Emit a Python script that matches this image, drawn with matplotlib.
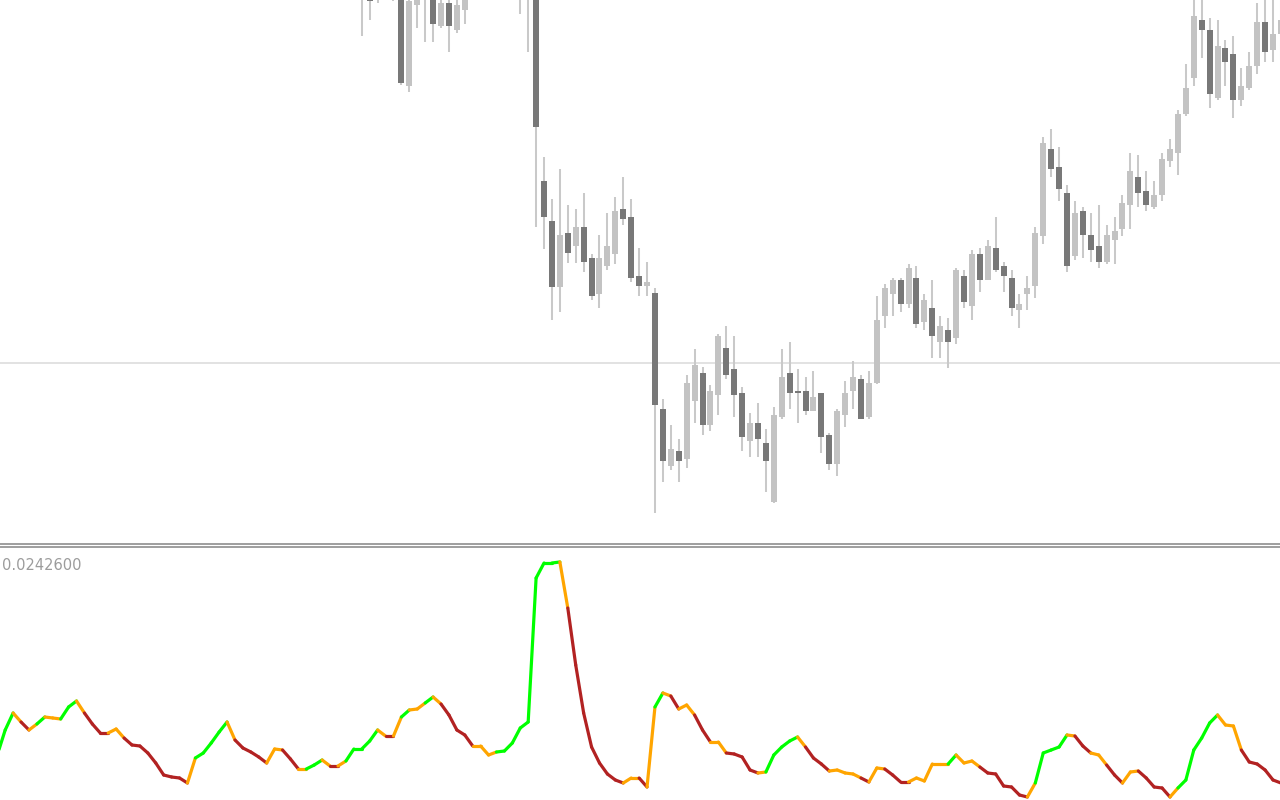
import numpy as np
import matplotlib
matplotlib.use("Agg")
import matplotlib.pyplot as plt
from matplotlib.collections import LineCollection
from matplotlib.lines import Line2D

# ---------------- price data (bars 45 .. 161, price in points) ----------------
first_bar = 45
opens = [1020, 1010, 1010, 1030, 1020, 1015, 914, 995, 1008, 1010,
         974, 997, 970, 990, 1020, 1035, 1050, 1045, 1060, 1050,
         1030, 1020, 1020, 819, 779, 713, 767, 754, 773, 742,
         706, 734, 746, 791, 783, 724, 714, 707, 591, 534,
         549, 541, 599, 627, 575, 605, 652, 631, 607, 559,
         577, 557, 498, 583, 627, 609, 609, 589, 607, 565,
         536, 585, 609, 621, 583, 617, 684, 706, 720, 696,
         722, 678, 692, 658, 670, 662, 724, 694, 746, 720,
         752, 734, 722, 690, 706, 714, 764, 851, 833, 807,
         744, 789, 765, 754, 738, 760, 771, 795, 823, 809,
         793, 805, 839, 847, 886, 922, 980, 970, 902, 952,
         946, 900, 912, 934, 978, 950, 966]
highs = [1060, 1030, 1040, 1050, 1055, 1030, 1005, 1020, 1030, 1020,
         1005, 1005, 1003, 1015, 1050, 1060, 1070, 1075, 1080, 1065,
         1045, 1040, 1030, 843, 801, 831, 795, 791, 807, 746,
         765, 787, 803, 823, 801, 752, 738, 712, 601, 575,
         561, 625, 651, 633, 615, 666, 674, 664, 613, 587,
         597, 571, 593, 651, 658, 631, 623, 629, 607, 567,
         591, 619, 639, 625, 629, 704, 716, 722, 722, 736,
         734, 706, 720, 684, 682, 732, 730, 750, 752, 760,
         783, 738, 730, 706, 724, 773, 863, 871, 853, 815,
         799, 793, 787, 795, 775, 783, 805, 847, 845, 829,
         819, 847, 861, 890, 936, 1005, 1003, 982, 980, 960,
         964, 932, 948, 997, 1005, 1005, 1005]
lows = [964, 980, 997, 1005, 999, 915, 908, 972, 958, 958,
        972, 948, 967, 976, 1005, 1020, 1030, 1030, 1040, 1020,
        986, 948, 773, 751, 680, 688, 737, 737, 728, 700,
        692, 730, 736, 775, 718, 704, 704, 487, 518, 530,
        518, 532, 577, 565, 569, 585, 621, 583, 549, 543,
        543, 508, 497, 581, 591, 577, 585, 589, 547, 530,
        524, 573, 591, 581, 581, 616, 672, 684, 688, 692,
        672, 670, 642, 642, 632, 656, 692, 680, 708, 720,
        728, 708, 684, 672, 690, 702, 756, 823, 799, 728,
        740, 742, 738, 732, 736, 736, 764, 771, 793, 789,
        791, 799, 833, 825, 884, 914, 942, 892, 900, 914,
        882, 894, 910, 926, 938, 938, 940]
closes = [1040, 999, 1025, 1045, 1040, 917, 999, 1010, 1020, 976,
          997, 974, 995, 1005, 1035, 1050, 1045, 1060, 1050, 1040,
          1010, 1010, 873, 783, 713, 765, 747, 773, 738, 704,
          742, 754, 789, 781, 722, 714, 718, 595, 539, 551,
          539, 617, 635, 575, 609, 664, 625, 605, 563, 577,
          561, 539, 585, 623, 607, 607, 589, 603, 563, 536,
          589, 607, 623, 581, 617, 680, 712, 720, 696, 732,
          676, 700, 664, 674, 658, 730, 698, 746, 720, 754,
          730, 724, 692, 696, 712, 767, 857, 831, 811, 734,
          787, 765, 750, 738, 765, 769, 797, 829, 807, 795,
          805, 841, 851, 886, 912, 984, 970, 906, 954, 938,
          900, 914, 934, 978, 948, 966, 980]
level_line = 637

# ---------------- indicator data (bars -1 .. 161) ----------------
ind_first = -1
ind_values = [0.0045, 0.0070, 0.0087, 0.0078, 0.0070, 0.0076, 0.0083, 0.0082, 0.0081, 0.0093, 0.0099,
              0.0087, 0.0076, 0.0067, 0.0067, 0.0071, 0.0062, 0.0055, 0.0054, 0.0047, 0.0037,
              0.0025, 0.0023, 0.0022, 0.0017, 0.0042, 0.0047, 0.0057, 0.0068, 0.0078, 0.0060,
              0.0052, 0.0048, 0.0043, 0.0037, 0.0051, 0.0050, 0.0041, 0.0031, 0.0031, 0.0035,
              0.0040, 0.0034, 0.0034, 0.0039, 0.0051, 0.0051, 0.0059, 0.0070, 0.0064, 0.0064,
              0.0083, 0.0090, 0.0091, 0.0097, 0.0103, 0.0096, 0.0085, 0.0070, 0.0065, 0.0054,
              0.0054, 0.0045, 0.0048, 0.0049, 0.0057, 0.0072, 0.0078, 0.0222, 0.0237, 0.0237,
              0.0238, 0.0192, 0.0135, 0.0087, 0.0053, 0.0037, 0.0026, 0.0020, 0.0017, 0.0022,
              0.0022, 0.0013, 0.0093, 0.0107, 0.0104, 0.0091, 0.0095, 0.0085, 0.0070, 0.0058,
              0.0058, 0.0047, 0.0046, 0.0043, 0.0030, 0.0027, 0.0028, 0.0045, 0.0053, 0.0059,
              0.0063, 0.0053, 0.0042, 0.0036, 0.0029, 0.0030, 0.0027, 0.0026, 0.0022, 0.0018,
              0.0032, 0.0031, 0.0025, 0.0018, 0.0018, 0.0022, 0.0019, 0.0036, 0.0036, 0.0036,
              0.0045, 0.0037, 0.0039, 0.0033, 0.0027, 0.0026, 0.0014, 0.0013, 0.0005, 0.0003,
              0.0017, 0.0047, 0.0050, 0.0053, 0.0065, 0.0064, 0.0054, 0.0047, 0.0045, 0.0035,
              0.0025, 0.0017, 0.0028, 0.0029, 0.0022, 0.0013, 0.0012, 0.0003, 0.0012, 0.0020,
              0.0050, 0.0062, 0.0077, 0.0085, 0.0075, 0.0074, 0.0050, 0.0038, 0.0036, 0.0030,
              0.0020, 0.0017]
ind_state = ("G G G O R O G O O G G "
             "O R R R O O R R R R "
             "R R R R O G G G G O "
             "R R R R O O R R O G "
             "G O R O G G G G O R "
             "O G O O G O R R R R "
             "O O O G G G G G G G "
             "G O R R R R R R R O "
             "O R O G O R O O R R "
             "O O R R R R O G G G "
             "G O R R R O O O O R "
             "O O R R R O O O O O "
             "G O O O R R R R R R "
             "O G G G G O R R O O "
             "R R O O R R R R O G "
             "G G G G O O O R R R "
             "R R").split()
scale_label = "0.0242600"

# ---------------- styling ----------------
BULL = "#c3c3c3"
BEAR = "#787878"
WICK = "#c9c9c9"
STATE_COLORS = {"G": "#00ff00", "O": "#ffa500", "R": "#b22222"}

W, H = 1280, 800
fig = plt.figure(figsize=(W / 100, H / 100), dpi=100)
fig.patch.set_facecolor("white")

xlim = (-0.656, 160.88)

# price panel
price_bottom = 541
ax = fig.add_axes([0, 1 - price_bottom / H, 1, price_bottom / H])
ax.set_xlim(*xlim)
ax.set_ylim(459, 1000)
ax.axis("off")

o = np.array(opens, float)
h = np.array(highs, float)
l = np.array(lows, float)
c = np.array(closes, float)
x = np.arange(first_bar, first_bar + len(o))
bull = c >= o

ax.axhline(level_line, color="#dadada", lw=1.1, zorder=0)
ax.vlines(x, l, h, color=WICK, lw=1.45, zorder=1)
body_bottom = np.minimum(o, c)
body_h = np.maximum(np.abs(c - o), 1.3)
ax.bar(x, body_h, width=0.757, bottom=body_bottom,
       color=np.where(bull, BULL, BEAR), linewidth=0, zorder=2)

# indicator panel
ind_top = 550
iax = fig.add_axes([0, 0, 1, (H - ind_top) / H])
iax.set_xlim(*xlim)
iax.set_ylim(0, 0.025)
iax.axis("off")

v = np.array(ind_values)
xi = np.arange(ind_first, ind_first + len(v))
pts = np.column_stack([xi, v])
segs = np.stack([pts[:-1], pts[1:]], axis=1)
cols = [STATE_COLORS[s] for s in ind_state[1:]]
lc = LineCollection(segs, colors=cols, linewidths=2.3,
                    capstyle="round", joinstyle="round", clip_on=False)
iax.add_collection(lc)

# separators between panels
for ypx in (543.5, 546.8):
    fig.add_artist(Line2D([0, 1], [1 - ypx / H] * 2, transform=fig.transFigure,
                          color="#8e8e8e", lw=1.2))

fig.text(2 / W, 1 - 565 / H, scale_label, ha="left", va="center",
         color="#9c9c9c", fontsize=10.5, family="DejaVu Sans")

fig.savefig("out.png", dpi=100, facecolor="white")
